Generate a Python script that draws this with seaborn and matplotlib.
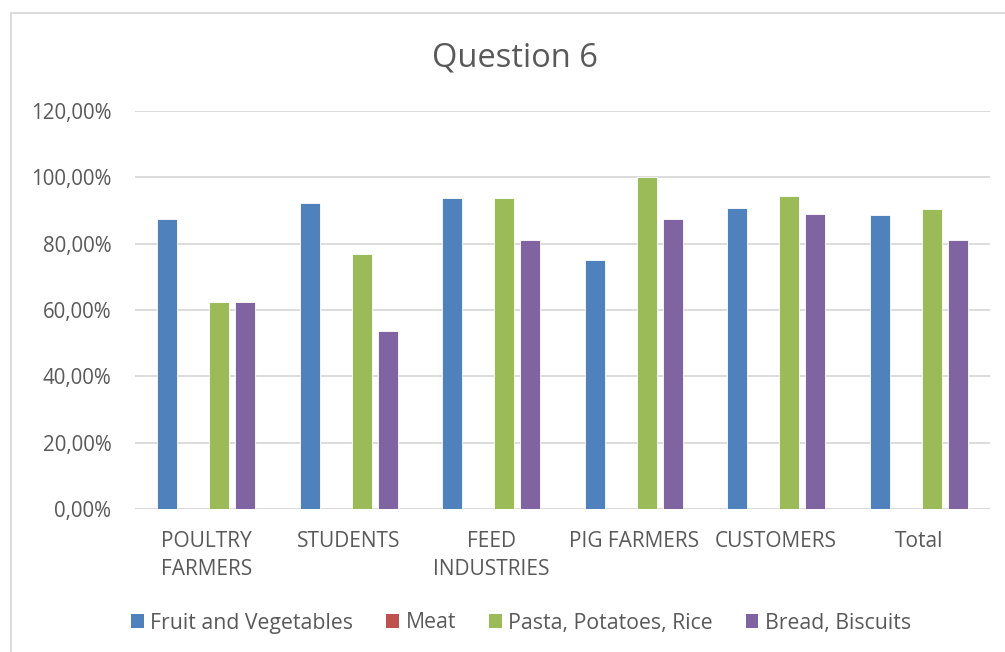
import pandas as pd
import matplotlib.pyplot as plt
import seaborn as sns
from matplotlib.patches import Patch
from matplotlib.lines import Line2D

# valori (percentuali)
groups = ['POULTRY\nFARMERS', 'STUDENTS', 'FEED\nINDUSTRIES', 'PIG FARMERS', 'CUSTOMERS', 'Total']
series = ['Fruit and Vegetables', 'Meat', 'Pasta, Potatoes, Rice', 'Bread, Biscuits']
fruit_veg = [87.5, 92.3, 93.75, 75.0, 90.7, 88.7]
meat = [0, 0, 0, 0, 0, 0]
pasta = [62.5, 76.9, 93.75, 100.0, 94.4, 90.5]
bread = [62.5, 53.8, 81.25, 87.5, 88.9, 81.2]
yticks = [0, 20, 40, 60, 80, 100, 120]

colors = ['#4F81BD', '#C0504D', '#9BBB59', '#8064A2']
text_col = '#595959'
grid_col = '#D9D9D9'

rows = []
for name, vals in zip(series, [fruit_veg, meat, pasta, bread]):
    for g, v in zip(groups, vals):
        rows.append({'group': g, 'serie': name, 'valore': v})
df = pd.DataFrame(rows)

sns.set_theme(style="white")
plt.rcParams['font.family'] = ['Open Sans', 'DejaVu Sans']

fig = plt.figure(figsize=(10.05, 6.52), dpi=100)
ax = fig.add_axes([135 / 1005, 1 - 509 / 652, 855 / 1005, 398 / 652])

sns.barplot(data=df, x='group', y='valore', hue='serie', hue_order=series,
            palette=colors, saturation=1, width=0.73, gap=0.22, ax=ax,
            edgecolor='white', linewidth=0.6, legend=False, zorder=3)

ax.set_ylim(0, 120)
ax.set_xlim(-0.5, len(groups) - 0.5)
ax.set_yticks(yticks)
ax.set_yticklabels([f'{t:.2f}'.replace('.', ',') + '%' for t in yticks])
ax.yaxis.grid(True, color=grid_col, linewidth=1.3, zorder=0)
ax.set_axisbelow(True)
for s in ['top', 'right', 'left', 'bottom']:
    ax.spines[s].set_visible(False)
ax.axhline(0, color=grid_col, linewidth=1.3, zorder=1)
ax.set_xlabel('')
ax.set_ylabel('')
ax.tick_params(axis='y', length=0, pad=17, labelsize=14.8, labelcolor=text_col)
ax.tick_params(axis='x', length=0, pad=16, labelsize=15, labelcolor=text_col)
for lab in ax.get_xticklabels():
    lab.set_linespacing(1.45)
    lab.set_verticalalignment('top')

fig.text(515 / 1005, 1 - 58 / 652, 'Question 6', ha='center', va='center',
         fontsize=23.5, color=text_col)

# cornice del grafico
fig.add_artist(Line2D([11 / 1005, 11 / 1005], [0, 1 - 13 / 652], color=grid_col,
                      linewidth=1.3, transform=fig.transFigure))
fig.add_artist(Line2D([11 / 1005, 1], [1 - 13 / 652, 1 - 13 / 652], color=grid_col,
                      linewidth=1.3, transform=fig.transFigure))

handles = [Patch(facecolor=c, edgecolor='none') for c in colors]
fig.legend(handles, series, loc='center', bbox_to_anchor=(521 / 1005, 1 - 623 / 652),
           ncol=4, frameon=False, fontsize=15.3, labelcolor=text_col,
           handlelength=0.6, handleheight=0.6, handletextpad=0.3, columnspacing=1.55)

plt.savefig('out.png', dpi=100)
plt.close()
